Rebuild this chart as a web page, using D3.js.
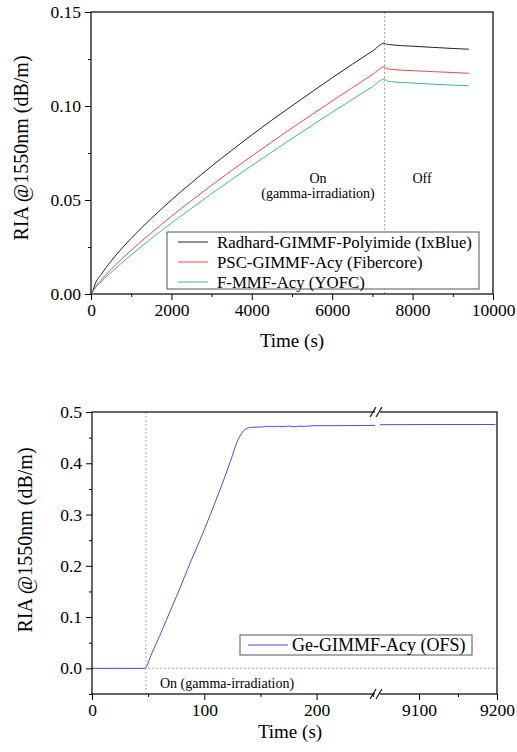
<!DOCTYPE html>
<html>
<head>
<meta charset="utf-8">
<script src="https://cdn.jsdelivr.net/npm/d3@7"></script>
<style>
  body { margin: 0; background: #fff; }
  svg { font-family: 'Liberation Serif', 'Times New Roman', serif; }
  .axis path, .axis line { stroke: #000; }
  .axis text { font-size: 17.5px; font-family: 'Liberation Serif', serif; fill: #000; }
</style>
</head>
<body>
<svg id="chart" width="517" height="752"></svg>
<script>
// top panel: three fibres, irradiation on/off
const topTime = [0, 50, 100, 250, 500, 1000, 1500, 2000, 2500, 3000, 3500, 4000, 4500, 5000, 5500, 6000, 6500, 7000, 7300, 7350, 7450, 8000, 8500, 9000, 9400];
const radhard = [0, 0.002, 0.0052, 0.0103, 0.0175, 0.0296, 0.0402, 0.05, 0.0592, 0.068, 0.0764, 0.0846, 0.0925, 0.1001, 0.1076, 0.115, 0.1222, 0.1292, 0.1334, 0.1329, 0.1326, 0.1318, 0.1312, 0.1306, 0.1302];
const pscAcy = [0, 0.0015, 0.0034, 0.0074, 0.0131, 0.0233, 0.0325, 0.0413, 0.0497, 0.0578, 0.0657, 0.0734, 0.0809, 0.0883, 0.0955, 0.1027, 0.1097, 0.1167, 0.1209, 0.12, 0.1195, 0.1188, 0.1183, 0.1178, 0.1174];
const fmmfAcy = [0, 0.0013, 0.0029, 0.0064, 0.0115, 0.0208, 0.0295, 0.0377, 0.0456, 0.0534, 0.0609, 0.0683, 0.0755, 0.0827, 0.0897, 0.0967, 0.1035, 0.1103, 0.1144, 0.1135, 0.113, 0.1122, 0.1116, 0.1111, 0.1108];
const topNames = ['Radhard-GIMMF-Polyimide (IxBlue)', 'PSC-GIMMF-Acy (Fibercore)', 'F-MMF-Acy (YOFC)'];
const topColors = ['#222222', '#f04848', '#3cb4b4'];
const topXTicks = [0, 2000, 4000, 6000, 8000, 10000];
const topYTicks = [0, 0.05, 0.1, 0.15];
const switchOff = 7300;

// bottom panel: Ge fibre, broken time axis
const geTimeL = [0, 10, 20, 30, 40, 47, 53, 60, 66, 72, 79, 85, 92, 99, 105, 110, 116, 121, 125, 128, 131, 134, 137, 141, 146, 152, 156, 160, 165, 170, 175, 180, 185, 190, 196, 210, 230, 252];
const geRiaL = [0, 0, 0, 0, 0, 0, 0.028, 0.062, 0.093, 0.124, 0.16, 0.193, 0.229, 0.265, 0.298, 0.326, 0.36, 0.39, 0.415, 0.435, 0.45, 0.461, 0.467, 0.47, 0.4705, 0.471, 0.4722, 0.4712, 0.472, 0.4714, 0.4726, 0.4713, 0.4724, 0.472, 0.4732, 0.4733, 0.4735, 0.4738];
const geTimeR = [9050, 9100, 9150, 9198];
const geRiaR = [0.4752, 0.4755, 0.4756, 0.4756];
const botXTicksL = [0, 100, 200];
const botXTicksR = [9100, 9200];
const botYTicks = [0, 0.1, 0.2, 0.3, 0.4, 0.5];
const switchOn = 48;

const svg = d3.select('#chart');

// ---------- top chart ----------
const x1 = d3.scaleLinear().domain([0, 10000]).range([91, 493]);
const y1 = d3.scaleLinear().domain([0, 0.15]).range([294, 12]);

svg.append('line')
  .attr('x1', x1(switchOff)).attr('x2', x1(switchOff))
  .attr('y1', y1(0.15)).attr('y2', y1(0))
  .attr('stroke', '#aaa').attr('stroke-dasharray', '2,2');

const topSeries = [radhard, pscAcy, fmmfAcy];
const line1 = d3.line()
  .curve(d3.curveMonotoneX)
  .x((d, i) => x1(topTime[i]))
  .y((d) => y1(d));

topSeries.forEach((s, k) => {
  svg.append('path')
    .datum(s)
    .attr('fill', 'none')
    .attr('stroke', topColors[k])
    .attr('stroke-width', 1)
    .attr('d', line1);
});

svg.append('rect')
  .attr('x', 91).attr('y', 12)
  .attr('width', 402).attr('height', 282)
  .attr('fill', 'none').attr('stroke', '#000').attr('stroke-width', 1.2);

svg.append('g')
  .attr('class', 'axis')
  .attr('transform', 'translate(0,294)')
  .call(d3.axisBottom(x1).tickValues(topXTicks).tickSize(6).tickSizeOuter(0).tickPadding(4).tickFormat(d3.format('d')))
  .call((g) => g.select('.domain').remove());
svg.append('g')
  .attr('class', 'axis')
  .attr('transform', 'translate(0,294)')
  .call(d3.axisBottom(x1).tickValues([1000, 3000, 5000, 7000, 9000]).tickSize(3).tickFormat(''))
  .call((g) => g.select('.domain').remove());

svg.append('g')
  .attr('class', 'axis')
  .attr('transform', 'translate(91,0)')
  .call(d3.axisLeft(y1).tickValues(topYTicks).tickSize(6).tickPadding(4).tickFormat(d3.format('.2f')))
  .call((g) => g.select('.domain').remove());
svg.append('g')
  .attr('class', 'axis')
  .attr('transform', 'translate(91,0)')
  .call(d3.axisLeft(y1).tickValues([0.025, 0.075, 0.125]).tickSize(3).tickFormat(''))
  .call((g) => g.select('.domain').remove());

svg.append('text')
  .attr('x', 318).attr('y', 183)
  .attr('text-anchor', 'middle').attr('font-size', 14)
  .text('On');
svg.append('text')
  .attr('x', 318).attr('y', 198)
  .attr('text-anchor', 'middle').attr('font-size', 14)
  .text('(gamma-irradiation)');
svg.append('text')
  .attr('x', 422).attr('y', 183)
  .attr('text-anchor', 'middle').attr('font-size', 14)
  .text('Off');

// legend
svg.append('rect')
  .attr('x', 167).attr('y', 232)
  .attr('width', 312).attr('height', 57)
  .attr('fill', '#fff').attr('stroke', '#555').attr('stroke-width', 1);
topNames.forEach((name, k) => {
  const yy = 242 + k * 20;
  svg.append('line')
    .attr('x1', 178).attr('x2', 208)
    .attr('y1', yy).attr('y2', yy)
    .attr('stroke', topColors[k]).attr('stroke-width', 1);
  svg.append('text')
    .attr('x', 217).attr('y', yy + 5.5)
    .attr('font-size', 16.8)
    .text(name);
});

svg.append('text')
  .attr('x', 292).attr('y', 347)
  .attr('text-anchor', 'middle').attr('font-size', 19)
  .text('Time (s)');
svg.append('text')
  .attr('transform', 'translate(28,148) rotate(-90)')
  .attr('text-anchor', 'middle').attr('font-size', 20)
  .text('RIA @1550nm (dB/m)');

// ---------- bottom chart ----------
const xL = d3.scaleLinear().domain([0, 252]).range([92, 375]);
const xR = d3.scaleLinear().domain([9050, 9200]).range([380, 497]);
const y2 = d3.scaleLinear().domain([-0.05, 0.5]).range([694, 412]);

svg.append('line')
  .attr('x1', xL(switchOn)).attr('x2', xL(switchOn))
  .attr('y1', y2(0.5)).attr('y2', y2(-0.05))
  .attr('stroke', '#aaa').attr('stroke-dasharray', '2,2');
svg.append('line')
  .attr('x1', xL(0)).attr('x2', xR(9200))
  .attr('y1', y2(0)).attr('y2', y2(0))
  .attr('stroke', '#aaa').attr('stroke-dasharray', '2,2');

const lineL = d3.line()
  .curve(d3.curveMonotoneX)
  .x((d, i) => xL(geTimeL[i]))
  .y((d) => y2(d));
const lineR = d3.line()
  .x((d, i) => xR(geTimeR[i]))
  .y((d) => y2(d));

svg.append('path')
  .datum(geRiaL)
  .attr('fill', 'none').attr('stroke', '#4b4bf0').attr('stroke-width', 1)
  .attr('d', lineL);
svg.append('path')
  .datum(geRiaR)
  .attr('fill', 'none').attr('stroke', '#4b4bf0').attr('stroke-width', 1)
  .attr('d', lineR);

svg.append('rect')
  .attr('x', 92).attr('y', 412)
  .attr('width', 405).attr('height', 282)
  .attr('fill', 'none').attr('stroke', '#000').attr('stroke-width', 1.2);

svg.append('g')
  .attr('class', 'axis')
  .attr('transform', 'translate(0,694)')
  .call(d3.axisBottom(xL).tickValues(botXTicksL).tickSize(6).tickPadding(4))
  .call((g) => g.select('.domain').remove());
svg.append('g')
  .attr('class', 'axis')
  .attr('transform', 'translate(0,694)')
  .call(d3.axisBottom(xL).tickValues([50, 150, 250]).tickSize(3).tickFormat(''))
  .call((g) => g.select('.domain').remove());
svg.append('g')
  .attr('class', 'axis')
  .attr('transform', 'translate(0,694)')
  .call(d3.axisBottom(xR).tickValues(botXTicksR).tickSize(6).tickPadding(4).tickFormat(d3.format('d')))
  .call((g) => g.select('.domain').remove());
svg.append('g')
  .attr('class', 'axis')
  .attr('transform', 'translate(0,694)')
  .call(d3.axisBottom(xR).tickValues([9150]).tickSize(3).tickFormat(''))
  .call((g) => g.select('.domain').remove());

svg.append('g')
  .attr('class', 'axis')
  .attr('transform', 'translate(92,0)')
  .call(d3.axisLeft(y2).tickValues(botYTicks).tickSize(6).tickPadding(4).tickFormat(d3.format('.1f')))
  .call((g) => g.select('.domain').remove());
svg.append('g')
  .attr('class', 'axis')
  .attr('transform', 'translate(92,0)')
  .call(d3.axisLeft(y2).tickValues([-0.05, 0.05, 0.15, 0.25, 0.35, 0.45]).tickSize(3).tickFormat(''))
  .call((g) => g.select('.domain').remove());

// axis break marks
[412, 694].forEach((yy) => {
  svg.append('rect')
    .attr('x', 375).attr('y', yy - 2)
    .attr('width', 5).attr('height', 4)
    .attr('fill', '#fff');
  [372, 378].forEach((bx) => {
    svg.append('line')
      .attr('x1', bx - 2).attr('x2', bx + 4)
      .attr('y1', yy + 5).attr('y2', yy - 5)
      .attr('stroke', '#000').attr('stroke-width', 1.1);
  });
});

svg.append('text')
  .attr('x', 160).attr('y', 688)
  .attr('font-size', 14)
  .text('On (gamma-irradiation)');

svg.append('rect')
  .attr('x', 240).attr('y', 635)
  .attr('width', 232).attr('height', 20)
  .attr('fill', '#fff').attr('stroke', '#555').attr('stroke-width', 1);
svg.append('line')
  .attr('x1', 248).attr('x2', 288)
  .attr('y1', 645).attr('y2', 645)
  .attr('stroke', '#4b4bf0').attr('stroke-width', 1);
svg.append('text')
  .attr('x', 292).attr('y', 651)
  .attr('font-size', 18)
  .text('Ge-GIMMF-Acy (OFS)');

svg.append('text')
  .attr('x', 290).attr('y', 738)
  .attr('text-anchor', 'middle').attr('font-size', 19)
  .text('Time (s)');
svg.append('text')
  .attr('transform', 'translate(32,540) rotate(-90)')
  .attr('text-anchor', 'middle').attr('font-size', 20)
  .text('RIA @1550nm (dB/m)');
</script>
</body>
</html>
